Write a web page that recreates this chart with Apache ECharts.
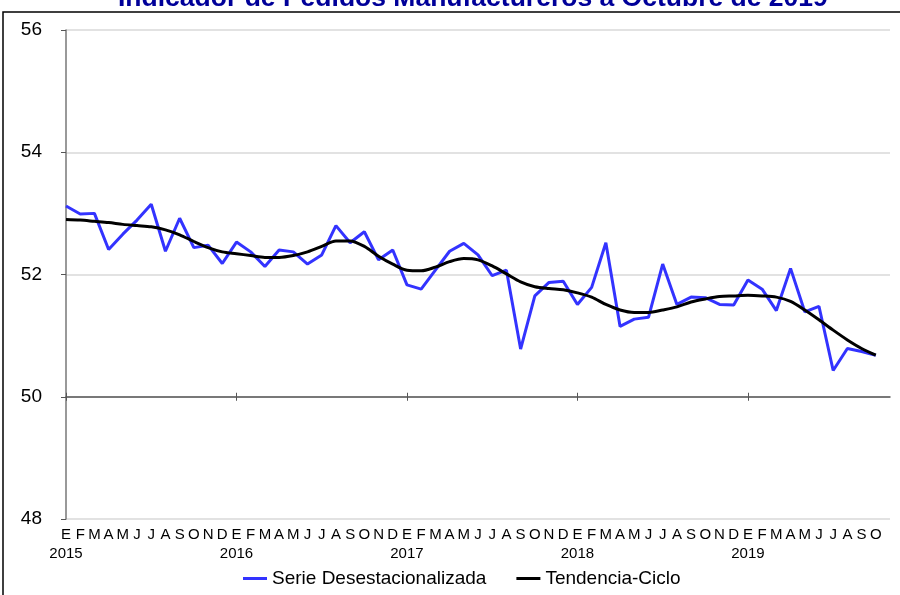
<!DOCTYPE html>
<html>
<head>
<meta charset="utf-8">
<script src="https://cdn.jsdelivr.net/npm/echarts@6/dist/echarts.min.js"></script>
<style>
  html, body { margin: 0; padding: 0; background: #fff; }
  #chart { width: 900px; height: 595px; }
</style>
</head>
<body>
<div id="chart"></div>
<script>
// meses ene-2015 a oct-2019 (+1 hueco al final, como en el original)
var meses = ['E','F','M','A','M','J','J','A','S','O','N','D'];
var anios = ['2015','2016','2017','2018','2019'];

var serieDesest = [
  53.12, 52.99, 53.00, 52.41, 52.66, 52.89, 53.15, 52.38, 52.92, 52.44, 52.48, 52.18,
  52.53, 52.37, 52.13, 52.40, 52.37, 52.17, 52.32, 52.80, 52.52, 52.70, 52.24, 52.40,
  51.83, 51.76, 52.07, 52.38, 52.51, 52.32, 51.98, 52.07, 50.78, 51.65, 51.87, 51.89,
  51.51, 51.79, 52.52, 51.15, 51.27, 51.30, 52.17, 51.51, 51.63, 51.62, 51.51, 51.50,
  51.91, 51.76, 51.41, 52.10, 51.39, 51.48, 50.43, 50.79, 50.74, 50.68
];

var tendCiclo = [
  52.90, 52.89, 52.87, 52.85, 52.82, 52.80, 52.78, 52.73, 52.65, 52.54, 52.44, 52.37,
  52.34, 52.31, 52.28, 52.28, 52.31, 52.37, 52.46, 52.55, 52.55, 52.46, 52.30, 52.17,
  52.07, 52.06, 52.12, 52.21, 52.26, 52.24, 52.14, 52.01, 51.88, 51.80, 51.77, 51.75,
  51.70, 51.63, 51.51, 51.42, 51.38, 51.38, 51.42, 51.47, 51.55, 51.60, 51.64, 51.65,
  51.66, 51.65, 51.63, 51.56, 51.42, 51.26, 51.09, 50.93, 50.79, 50.68
];

var categorias = [];
for (var i = 0; i < 59; i++) {
  var m = meses[i % 12];
  if (i % 12 == 0 && anios[i / 12]) {
    categorias.push(m + '\n' + anios[i / 12]);
  } else if (i < 58) {
    categorias.push(m);
  } else {
    categorias.push('');
  }
}

var gridTop = 30, gridBottom = 76;
var altoGrid = 595 - gridTop - gridBottom;
var offset50 = -altoGrid / 4;   // posicion de y = 50

var chart = echarts.init(document.getElementById('chart'));

var ejeBase = {
  type: 'category',
  data: categorias,
  boundaryGap: false,
  position: 'bottom'
};

chart.setOption({
  animation: false,
  textStyle: { fontFamily: 'Liberation Sans, Arial, sans-serif' },
  title: {
    text: 'Indicador de Pedidos Manufactureros a Octubre de 2019',
    left: 113,
    top: -20,
    textStyle: { fontSize: 26.5, fontWeight: 'bold', color: '#000099', fontFamily: 'Liberation Sans, Arial, sans-serif' }
  },
  graphic: [{
    type: 'rect',
    shape: { x: 3, y: 12, width: 900, height: 600 },
    style: { fill: '#fff', stroke: '#000', lineWidth: 1.5 },
    z: -10
  }],
  grid: { left: 66, right: 10, top: gridTop, bottom: gridBottom },
  legend: {
    bottom: 2,
    left: 238,
    itemWidth: 24,
    itemHeight: 3,
    itemGap: 30,
    icon: 'rect',
    textStyle: { fontSize: 19, color: '#000' },
    data: ['Serie Desestacionalizada', 'Tendencia-Ciclo']
  },
  xAxis: [
    Object.assign({}, ejeBase, {
      axisLine: { show: false },
      axisTick: { show: false },
      axisLabel: {
        interval: 0,
        fontSize: 15,
        color: '#000',
        lineHeight: 19,
        margin: 6
      }
    }),
    Object.assign({}, ejeBase, {
      offset: offset50,
      axisLine: { show: true, lineStyle: { color: '#555', width: 1.5 } },
      axisTick: { show: true, interval: 11, length: 4, lineStyle: { color: '#555' } },
      axisLabel: { show: false }
    }),
    Object.assign({}, ejeBase, {
      offset: offset50,
      axisLine: { show: false },
      axisTick: { show: true, inside: true, interval: 11, length: 4, lineStyle: { color: '#555' } },
      axisLabel: { show: false }
    })
  ],
  yAxis: {
    type: 'value',
    min: 48,
    max: 56,
    interval: 2,
    axisLine: { show: true, lineStyle: { color: '#777', width: 1.5 } },
    axisTick: { show: true, length: 5, lineStyle: { color: '#555' } },
    axisLabel: { fontSize: 19, color: '#000', margin: 24 },
    splitLine: { show: true, lineStyle: { color: '#d9d9d9', width: 1.5 } }
  },
  series: [
    {
      name: 'Serie Desestacionalizada',
      type: 'line',
      data: serieDesest,
      symbol: 'none',
      color: '#3333ff',
      lineStyle: { width: 3, color: '#3333ff' },
      z: 3
    },
    {
      name: 'Tendencia-Ciclo',
      type: 'line',
      data: tendCiclo,
      symbol: 'none',
      smooth: 0.3,
      color: '#000',
      lineStyle: { width: 3, color: '#000' },
      z: 4
    }
  ]
});
</script>
</body>
</html>
